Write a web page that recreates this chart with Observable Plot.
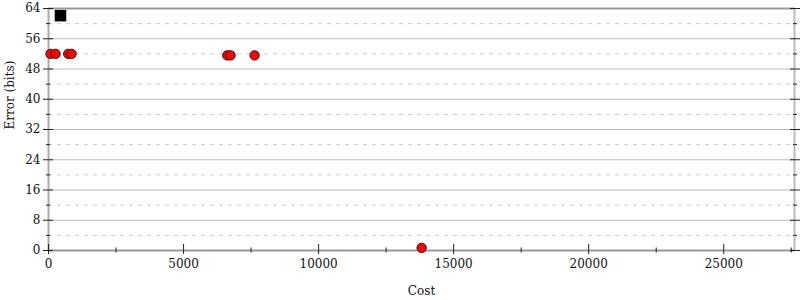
<!DOCTYPE html>
<html>
<head>
<meta charset="utf-8">
<script src="https://cdn.jsdelivr.net/npm/d3@7"></script>
<script src="https://cdn.jsdelivr.net/npm/@observablehq/plot@0.6"></script>
<style>
body { margin: 0; background: #fff; }
#chart svg { font-family: "DejaVu Serif", serif; font-size: 12px; }
</style>
</head>
<body>
<div id="chart"></div>
<script>
const circleCost = [74, 259, 730, 852, 6619, 6741, 7630, 13815];
const circleError = [52.0, 52.0, 52.0, 52.0, 51.6, 51.6, 51.6, 0.7];
const squareCost = [444];
const squareError = [62.1];

const yMajor = [0, 8, 16, 24, 32, 40, 48, 56, 64];
const yMinor = [4, 12, 20, 28, 36, 44, 52, 60];
const xMajor = [0, 5000, 10000, 15000, 20000, 25000];
const xMinor = [2500, 7500, 12500, 17500, 22500, 27500];
const xMax = 27620;
const yMax = 64;

const circles = circleCost.map((c, i) => ({cost: c, error: circleError[i]}));
const squares = squareCost.map((c, i) => ({cost: c, error: squareError[i]}));

const FS = 12;
const blank = () => "";

const chart = Plot.plot({
  width: 800,
  height: 300,
  marginLeft: 48,
  marginRight: 6,
  marginTop: 8,
  marginBottom: 50,
  style: {fontFamily: "DejaVu Serif, serif", fontSize: "12px", color: "#111", background: "#fff"},
  x: {domain: [0, xMax], label: null},
  y: {domain: [0, yMax], label: null},
  marks: [
    Plot.ruleY(yMajor.slice(1, -1), {stroke: "#bbb", strokeWidth: 1}),
    Plot.ruleY(yMinor, {stroke: "#ccc", strokeWidth: 1, strokeDasharray: "4,5"}),
    Plot.ruleX([xMax], {stroke: "#bbb", strokeWidth: 2}),
    Plot.ruleY([yMax], {stroke: "#999", strokeWidth: 2}),
    Plot.ruleX([0], {stroke: "#aaa", strokeWidth: 2}),
    Plot.ruleY([0], {stroke: "#999", strokeWidth: 2}),
    // left axis
    Plot.axisY({ticks: yMajor, tickSize: 5, tickPadding: 3, anchor: "left", label: null, stroke: "#222", fontSize: FS, fill: "#111"}),
    Plot.axisY({ticks: yMajor, tickSize: -5, tickFormat: blank, anchor: "left", label: null, stroke: "#222"}),
    Plot.axisY({ticks: yMinor, tickSize: 2, tickFormat: blank, anchor: "left", label: null, stroke: "#222"}),
    Plot.axisY({ticks: yMinor, tickSize: -2, tickFormat: blank, anchor: "left", label: null, stroke: "#222"}),
    // right axis
    Plot.axisY({ticks: yMajor, tickSize: 5, tickFormat: blank, anchor: "right", label: null, stroke: "#222"}),
    Plot.axisY({ticks: yMajor, tickSize: -5, tickFormat: blank, anchor: "right", label: null, stroke: "#222"}),
    Plot.axisY({ticks: yMinor, tickSize: 2, tickFormat: blank, anchor: "right", label: null, stroke: "#222"}),
    Plot.axisY({ticks: yMinor, tickSize: -2, tickFormat: blank, anchor: "right", label: null, stroke: "#222"}),
    // bottom axis
    Plot.axisX({ticks: xMajor, tickSize: 4, tickPadding: 5, tickFormat: d => String(d), anchor: "bottom", label: null, stroke: "#222", fontSize: FS, fill: "#111"}),
    Plot.axisX({ticks: xMajor, tickSize: -6, tickFormat: blank, anchor: "bottom", label: null, stroke: "#222"}),
    Plot.axisX({ticks: xMinor, tickSize: 2.5, tickFormat: blank, anchor: "bottom", label: null, stroke: "#222"}),
    Plot.axisX({ticks: xMinor, tickSize: -2.5, tickFormat: blank, anchor: "bottom", label: null, stroke: "#222"}),
    Plot.dot(circles, {x: "cost", y: "error", r: 4.7, fill: "red", stroke: "#222", strokeWidth: 1}),
    Plot.dot(squares, {x: "cost", y: "error", symbol: "square", r: 6.5, fill: "black", stroke: "none"}),
    Plot.text(["Cost"], {frameAnchor: "bottom", dy: 44, fontSize: FS, fill: "#111"}),
    Plot.text(["Error (bits)"], {frameAnchor: "left", dx: -38, rotate: -90, fontSize: FS, fill: "#111"})
  ]
});
document.getElementById("chart").appendChild(chart);
</script>
</body>
</html>
